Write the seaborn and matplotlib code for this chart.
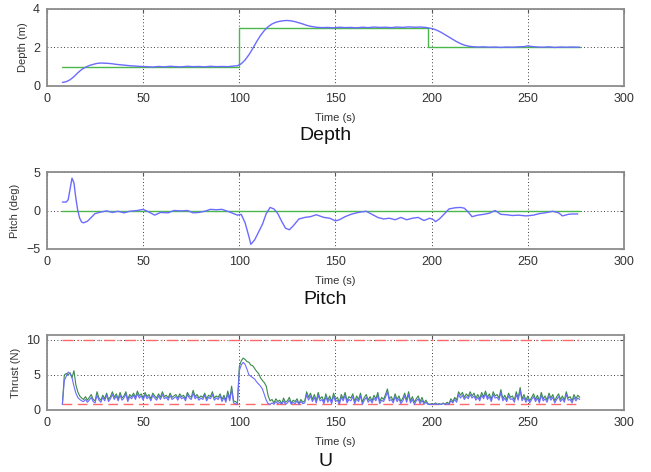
import numpy as np
import matplotlib
matplotlib.use("Agg")
import matplotlib.pyplot as plt
import seaborn as sns

# depth set point (step) and measured depth
depth_ref_t = [8, 100, 100, 198, 198, 277]
depth_ref = [1, 1, 3, 3, 2, 2]

depth_t = [8, 10, 12, 14, 16, 18, 20, 22, 24, 26, 28, 30, 32, 34, 36, 38, 40, 43, 46, 49, 52,
           55, 58, 61, 64, 67, 70, 73, 76, 79, 82, 85, 88, 91, 94, 97, 99, 101, 103, 105, 107,
           109, 111, 113, 115, 117, 119, 121, 123, 125, 127, 129, 131, 133, 135, 137, 140, 143,
           146, 149, 152, 155, 158, 161, 164, 167, 170, 173, 176, 179, 182, 185, 188, 191, 194,
           197, 199, 201, 203, 205, 207, 209, 211, 213, 215, 217, 219, 221, 224, 227, 230, 233,
           236, 239, 242, 245, 248, 250, 252, 255, 258, 261, 264, 267, 270, 273, 277]
depth = [0.18, 0.22, 0.32, 0.48, 0.68, 0.85, 0.97, 1.06, 1.12, 1.17, 1.19, 1.18, 1.17, 1.15,
         1.12, 1.1, 1.08, 1.05, 1.03, 1.01, 1.0, 0.98, 1.01, 0.99, 1.02, 1.0, 0.99, 1.02, 1.0,
         1.01, 0.99, 1.02, 1.0, 1.01, 1.0, 1.03, 1.05, 1.15, 1.35, 1.62, 1.95, 2.3, 2.62, 2.88,
         3.08, 3.22, 3.31, 3.36, 3.39, 3.4, 3.38, 3.34, 3.28, 3.22, 3.15, 3.1, 3.05, 3.03, 3.04,
         3.02, 3.05, 3.03, 3.04, 3.02, 3.05, 3.03, 3.06, 3.04, 3.05, 3.03, 3.06, 3.04, 3.07, 3.05,
         3.06, 3.04, 3.0, 2.96, 2.88, 2.78, 2.66, 2.54, 2.42, 2.3, 2.2, 2.12, 2.07, 2.04, 2.02,
         2.03, 2.01, 2.02, 2.0, 2.02, 2.01, 2.03, 2.04, 2.08, 2.05, 2.02, 2.01, 2.03, 2.0, 2.02,
         2.01, 2.02, 2.01]

# pitch
pitch_ref_t = [8, 277]
pitch_ref = [0, 0]

pitch_t = [8, 10, 11, 12, 13, 14, 15, 16, 17, 18, 19, 21, 23, 25, 28, 31, 34, 37, 40, 43, 47,
           50, 53, 56, 59, 63, 66, 70, 73, 76, 79, 82, 85, 88, 91, 95, 99, 101, 103, 105, 106,
           108, 110, 112, 114, 116, 118, 120, 122, 124, 126, 128, 131, 134, 137, 140, 144, 147,
           150, 152, 155, 158, 161, 163, 166, 169, 172, 175, 178, 181, 184, 187, 190, 193, 196,
           199, 201, 202, 204, 206, 209, 212, 215, 217, 219, 221, 224, 227, 230, 233, 236, 239,
           242, 245, 249, 253, 256, 259, 263, 266, 268, 271, 273, 276]
pitch = [1.1, 1.1, 1.4, 2.8, 4.2, 3.6, 1.6, 0.0, -1.0, -1.5, -1.6, -1.4, -0.9, -0.4, -0.2,
         -0.05, -0.25, -0.1, -0.3, -0.1, 0.0, 0.15, -0.2, -0.6, -0.25, -0.3, 0.0, -0.05, 0.0,
         -0.3, -0.25, -0.1, 0.15, 0.1, 0.15, -0.2, -0.6, -0.5, -1.6, -3.4, -4.4, -3.8, -2.8,
         -1.8, -0.4, 0.4, 0.2, -0.4, -1.4, -2.3, -2.5, -2.0, -1.1, -0.9, -0.8, -0.55, -0.9, -1.0,
         -1.35, -1.2, -0.8, -0.5, -0.3, -0.2, -0.1, -0.5, -0.9, -1.1, -1.0, -1.2, -0.9, -1.2,
         -1.0, -0.9, -1.3, -1.0, -1.2, -1.45, -1.1, -0.6, 0.2, 0.35, 0.4, 0.3, -0.2, -0.8, -0.6,
         -0.5, -0.35, 0.0, -0.5, -0.55, -0.65, -0.6, -0.7, -0.6, -0.4, -0.3, -0.1, -0.3, -0.7,
         -0.5, -0.45, -0.45]

# thrust, one sample per second from t = 8 s to t = 277 s
thrust_t = np.arange(8, 278)
thrust_green = [
    0.8, 5.0, 5.2, 5.0, 5.3, 4.6, 5.6, 3.6, 2.6, 2.0,
    1.7, 1.5, 1.9, 1.4, 1.8, 2.2, 1.5, 1.3, 2.6, 1.7,
    1.4, 2.1, 1.6, 2.4, 1.5, 1.9, 2.6, 1.8, 2.3, 1.6,
    2.5, 1.7, 2.0, 2.6, 1.5, 2.2, 1.9, 2.4, 1.8, 2.7,
    2.0, 2.3, 1.7, 2.5, 1.9, 2.2, 1.6, 2.4, 2.0, 1.7,
    2.3, 1.8, 2.6, 1.9, 2.1, 1.7, 2.4, 1.8, 2.0, 2.2,
    1.7, 2.3, 1.9, 2.1, 1.6, 2.5, 2.0, 1.8, 2.8, 1.9,
    2.2, 1.7, 2.0, 1.8, 2.4, 1.6, 2.1, 1.9, 2.6, 1.7,
    2.0, 1.8, 2.3, 1.5, 2.1, 1.4, 2.7, 1.6, 3.4, 1.3,
    1.2, 1.0, 6.2, 7.0, 7.4, 7.2, 6.9, 6.8, 6.4, 6.3,
    5.9, 5.5, 5.2, 4.6, 4.2, 3.9, 3.4, 2.0, 1.3, 1.5,
    1.0, 1.6, 1.2, 1.4, 0.9, 1.7, 1.1, 1.3, 1.8, 1.0,
    1.4, 1.2, 1.6, 0.9, 1.5, 1.1, 1.3, 2.6, 1.8, 2.4,
    1.5, 2.2, 1.3, 2.5, 1.6, 1.9, 1.2, 2.3, 1.4, 2.0,
    1.2, 2.4, 1.5, 1.8, 1.1, 2.2, 1.6, 2.5, 1.3, 1.9,
    1.7, 2.3, 1.2, 2.0, 1.5, 2.4, 1.1, 1.8, 2.2, 1.4,
    1.9, 1.3, 2.1, 1.6, 2.5, 1.2, 1.8, 1.5, 2.2, 3.0,
    1.6, 1.9, 1.3, 2.3, 1.5, 2.0, 1.2, 1.7, 2.4, 1.4,
    2.6, 1.3, 1.9, 1.1, 1.6, 2.0, 1.2, 1.8, 1.0, 1.4,
    0.9, 0.8, 0.9, 0.8, 1.0, 0.8, 0.9, 0.8, 1.0, 0.8,
    1.1, 0.9, 1.6, 1.2, 1.8, 1.4, 2.6, 2.1, 2.5, 1.8,
    2.3, 1.9, 2.6, 2.0, 2.4, 1.7, 2.2, 1.6, 2.5, 1.9,
    2.7, 1.8, 2.3, 1.5, 2.6, 2.0, 2.2, 1.7, 2.9, 1.6,
    2.1, 1.5, 2.4, 1.8, 2.0, 1.4, 2.6, 1.7, 3.2, 1.6,
    2.2, 1.4, 2.0, 1.3, 1.8, 2.3, 1.5, 2.1, 1.3, 2.5,
    1.6, 2.0, 1.4, 2.4, 1.7, 2.2, 1.3, 1.9, 2.3, 1.5,
    2.0, 1.4, 2.6, 1.7, 1.9, 1.3, 2.2, 1.6, 2.1, 1.8]
thrust_blue = [
    0.8, 4.2, 4.8, 5.4, 5.2, 4.6, 3.4, 2.4, 1.8, 1.5,
    1.3, 1.2, 1.5, 1.1, 1.4, 1.8, 1.2, 1.0, 2.1, 1.4,
    1.1, 1.8, 1.3, 2.1, 1.2, 1.6, 2.2, 1.5, 2.0, 1.3,
    2.1, 1.4, 1.7, 2.3, 1.2, 1.9, 1.6, 2.1, 1.5, 2.3,
    1.7, 2.0, 1.4, 2.2, 1.6, 1.9, 1.3, 2.1, 1.7, 1.4,
    2.0, 1.5, 2.2, 1.6, 1.8, 1.4, 2.1, 1.5, 1.7, 1.9,
    1.4, 2.0, 1.6, 1.8, 1.3, 2.2, 1.7, 1.5, 2.4, 1.6,
    1.9, 1.4, 1.7, 1.5, 2.1, 1.3, 1.8, 1.6, 2.2, 1.4,
    1.7, 1.5, 2.0, 1.2, 1.8, 1.1, 2.3, 1.3, 2.9, 1.0,
    0.9, 0.8, 5.6, 6.4, 6.8, 6.5, 5.8, 5.0, 4.8, 4.6,
    4.4, 4.0, 3.7, 3.4, 3.0, 2.2, 1.4, 0.9, 0.8, 1.0,
    0.8, 1.2, 0.9, 1.1, 0.8, 1.3, 0.8, 1.0, 1.4, 0.8,
    1.1, 0.9, 1.3, 0.8, 1.2, 0.9, 1.0, 2.2, 1.4, 2.0,
    1.2, 1.8, 1.0, 2.1, 1.3, 1.5, 0.9, 1.9, 1.1, 1.6,
    0.9, 2.0, 1.2, 1.4, 0.8, 1.8, 1.3, 2.1, 1.0, 1.5,
    1.3, 1.9, 0.9, 1.6, 1.2, 2.0, 0.8, 1.4, 1.8, 1.1,
    1.5, 1.0, 1.7, 1.3, 2.1, 0.9, 1.4, 1.2, 1.8, 2.6,
    1.3, 1.5, 1.0, 1.9, 1.2, 1.6, 0.9, 1.3, 2.0, 1.1,
    2.2, 1.0, 1.5, 0.8, 1.3, 1.6, 0.9, 1.4, 0.8, 1.1,
    0.8, 0.8, 0.8, 0.8, 0.9, 0.8, 0.8, 0.8, 0.9, 0.8,
    0.9, 0.8, 1.3, 1.0, 1.5, 1.1, 2.2, 1.7, 2.1, 1.5,
    1.9, 1.6, 2.2, 1.7, 2.0, 1.4, 1.8, 1.3, 2.1, 1.6,
    2.3, 1.5, 1.9, 1.2, 2.2, 1.7, 1.8, 1.4, 2.5, 1.3,
    1.7, 1.2, 2.0, 1.5, 1.6, 1.1, 2.2, 1.4, 2.8, 1.3,
    1.8, 1.1, 1.6, 1.0, 1.5, 1.9, 1.2, 1.7, 1.0, 2.1,
    1.3, 1.6, 1.1, 2.0, 1.4, 1.8, 1.0, 1.5, 1.9, 1.2,
    1.6, 1.1, 2.2, 1.4, 1.5, 1.0, 1.8, 1.3, 1.7, 1.5]
thrust_max = 10
thrust_min = 0.8
limit_t = [8, 277]

sns.set_style("white")
plt.rcParams['font.family'] = ['Liberation Sans', 'DejaVu Sans']

BLUE = '#6b6bff'
GREEN = '#4cb84c'
DGREEN = '#3a8a4a'
RED = '#ff6a6a'
TXT = '#333333'

fig = plt.figure(figsize=(6.51, 4.72), dpi=100)
ax_depth = fig.add_axes([0.0722, 0.818, 0.8863, 0.163])
ax_pitch = fig.add_axes([0.0722, 0.4725, 0.8863, 0.163])
ax_u = fig.add_axes([0.0722, 0.1314, 0.8863, 0.159])


def style_axes(ax, ylim, yticks, ylabel):
    ax.set_xlim(0, 300)
    ax.set_ylim(*ylim)
    ax.set_xticks([0, 50, 100, 150, 200, 250, 300])
    ax.set_yticks(yticks)
    ax.grid(True, color='black', linestyle=(0, (1, 3)), linewidth=0.6)
    for s in ax.spines.values():
        s.set_color('#8c8c8c')
        s.set_linewidth(1.3)
    ax.tick_params(direction='in', length=3, width=0.8, color='#555555',
                   labelsize=9, labelcolor=TXT, top=True, right=True, pad=5)
    ax.set_xlabel('Time (s)', fontsize=8, color=TXT, labelpad=6)
    ax.set_ylabel(ylabel, fontsize=8, color=TXT, labelpad=4)


sns.lineplot(x=depth_ref_t, y=depth_ref, ax=ax_depth, color=GREEN, linewidth=1.0,
             sort=False, estimator=None)
sns.lineplot(x=depth_t, y=depth, ax=ax_depth, color=BLUE, linewidth=1.0, estimator=None)
style_axes(ax_depth, (0, 4), [0, 2, 4], 'Depth (m)')

sns.lineplot(x=pitch_ref_t, y=pitch_ref, ax=ax_pitch, color=GREEN, linewidth=1.0, estimator=None)
sns.lineplot(x=pitch_t, y=pitch, ax=ax_pitch, color=BLUE, linewidth=1.0, estimator=None)
style_axes(ax_pitch, (-5, 5), [-5, 0, 5], 'Pitch (deg)')

sns.lineplot(x=limit_t, y=[thrust_max] * 2, ax=ax_u, color=RED, linewidth=1.0,
             linestyle=(0, (8, 3, 1, 3)), estimator=None)
sns.lineplot(x=limit_t, y=[thrust_min] * 2, ax=ax_u, color=RED, linewidth=1.0,
             linestyle=(0, (7, 4)), estimator=None)
sns.lineplot(x=thrust_t, y=thrust_green, ax=ax_u, color=DGREEN, linewidth=0.8, estimator=None)
sns.lineplot(x=thrust_t, y=thrust_blue, ax=ax_u, color=BLUE, linewidth=0.8, estimator=None)
style_axes(ax_u, (0, 10.7), [0, 5, 10], 'Thrust (N)')

fig.text(0.5, 1 - 135 / 472, 'Depth', ha='center', va='center', fontsize=14, color='#111111')
fig.text(0.5, 1 - 299 / 472, 'Pitch', ha='center', va='center', fontsize=14, color='#111111')
fig.text(0.5, 1 - 462 / 472, 'U', ha='center', va='center', fontsize=14, color='#111111')

fig.savefig('out.png', dpi=100)
